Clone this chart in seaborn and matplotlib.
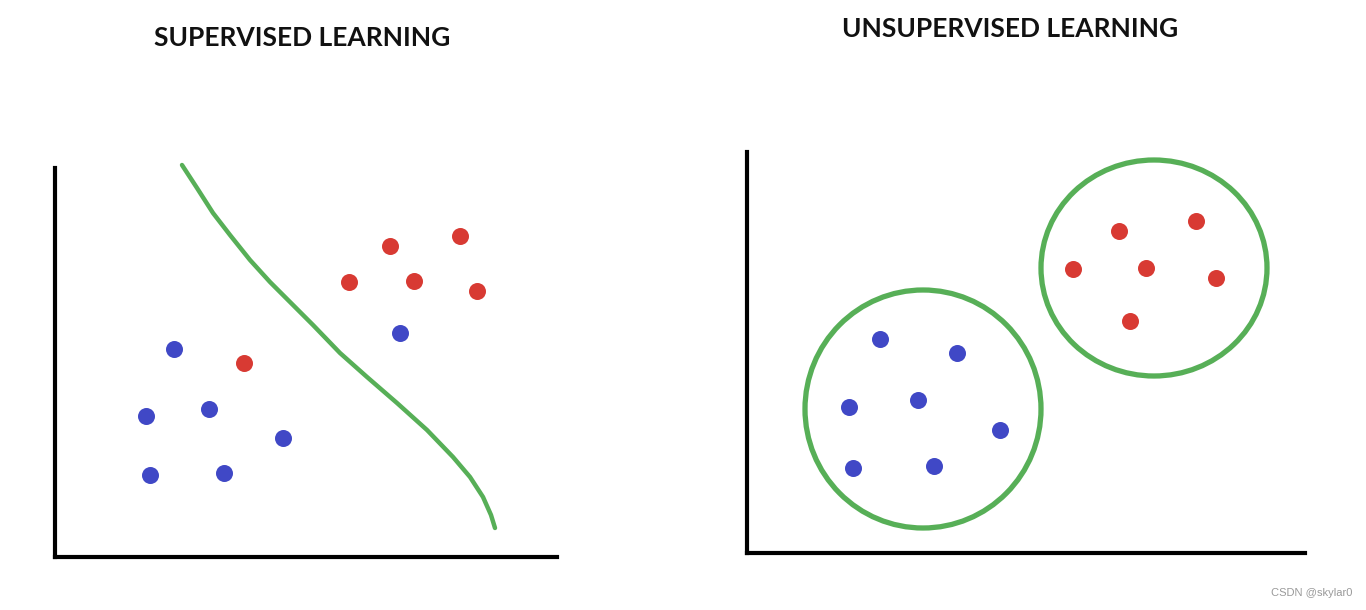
import matplotlib
matplotlib.use("Agg")
import matplotlib.pyplot as plt
from matplotlib.patches import Ellipse
import seaborn as sns

# ---------------- data (units ~ pixels from each panel's origin) ----------------
sup_blue_x = [119, 91, 154, 95, 169, 228, 345]
sup_blue_y = [208, 141, 148, 82, 84, 119, 224]
sup_red_x = [189, 294, 335, 359, 405, 422]
sup_red_y = [194, 275, 311, 276, 321, 266]
boundary_x = [127, 142, 158, 175, 195, 215, 235, 258, 285, 312, 342, 372, 398, 415, 428, 436, 440]
boundary_y = [392, 369, 344, 322, 297, 275, 255, 232, 204, 180, 154, 127, 100, 80, 60, 42, 29]

uns_blue_x = [133, 210, 102, 171, 253, 106, 187]
uns_blue_y = [214, 200, 146, 153, 123, 85, 87]
uns_red_x = [372, 449, 326, 399, 469, 383]
uns_red_y = [322, 332, 284, 285, 275, 232]
cluster_cx = [176, 407]
cluster_cy = [144, 285]
cluster_w = [236, 226]
cluster_h = [238, 216]

titles = ["SUPERVISED LEARNING", "UNSUPERVISED LEARNING"]
watermark = "CSDN @skylar0"

GREEN = "#57AF57"
RED = "#D83A33"
BLUE = "#4048C6"

sns.set_style("white")
plt.rcParams["font.family"] = ["Lato", "DejaVu Sans"]

W, H = 1366, 610
fig = plt.figure(figsize=(W / 100, H / 100), dpi=100)

def add_panel(x0, y0, x1, y1):
    ax = fig.add_axes([x0 / W, 1 - y1 / H, (x1 - x0) / W, (y1 - y0) / H])
    ax.set_xlim(0, x1 - x0)
    ax.set_ylim(0, y1 - y0)
    sns.despine(ax=ax)
    for s in ("left", "bottom"):
        ax.spines[s].set_linewidth(3.0)
        ax.spines[s].set_color("black")
    ax.set_xticks([])
    ax.set_yticks([])
    ax.set_xlabel("")
    ax.set_ylabel("")
    return ax

# ---------------- left: supervised ----------------
ax1 = add_panel(55, 168, 557, 557)
sns.lineplot(x=boundary_x, y=boundary_y, sort=False, color=GREEN, lw=3.2,
             ax=ax1, clip_on=False, solid_capstyle="round", solid_joinstyle="round")
sns.scatterplot(x=sup_blue_x, y=sup_blue_y, color=BLUE, s=150, linewidth=0, ax=ax1)
sns.scatterplot(x=sup_red_x, y=sup_red_y, color=RED, s=150, linewidth=0, ax=ax1)

# ---------------- right: unsupervised ----------------
ax2 = add_panel(747, 152, 1305, 553)
for cx, cy, w, h in zip(cluster_cx, cluster_cy, cluster_w, cluster_h):
    ax2.add_patch(Ellipse((cx, cy), w, h, fill=False, edgecolor=GREEN, lw=3.8))
sns.scatterplot(x=uns_blue_x, y=uns_blue_y, color=BLUE, s=150, linewidth=0, ax=ax2)
sns.scatterplot(x=uns_red_x, y=uns_red_y, color=RED, s=150, linewidth=0, ax=ax2)

# ---------------- text ----------------
fig.text(302 / W, 1 - 38 / H, titles[0], ha="center", va="center",
         fontsize=19, fontweight="bold", color="#111111")
fig.text(1010 / W, 1 - 29 / H, titles[1], ha="center", va="center",
         fontsize=19, fontweight="bold", color="#111111")
fig.text(1352 / W, 1 - 593 / H, watermark, ha="right", va="center",
         fontsize=8, color="#999999", family=["Liberation Sans", "DejaVu Sans"])

fig.savefig("out.png", dpi=100, facecolor="white")
